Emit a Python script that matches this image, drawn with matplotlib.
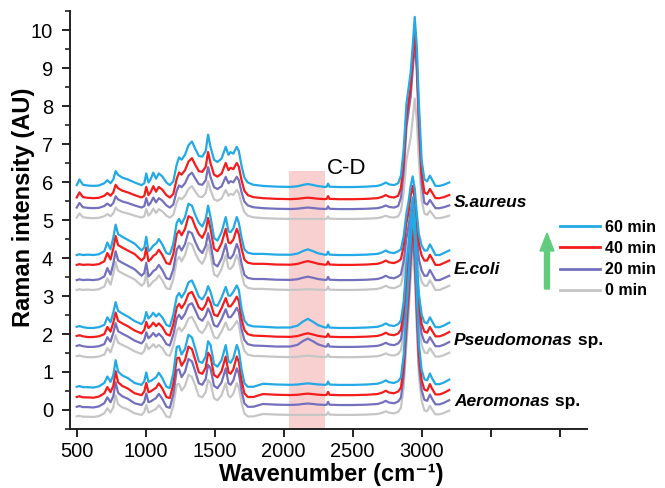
import numpy as np
import matplotlib
matplotlib.use("Agg")
import matplotlib.pyplot as plt
from matplotlib.lines import Line2D
from matplotlib.patches import Rectangle, FancyArrow
from matplotlib.ticker import MultipleLocator, FixedLocator, FuncFormatter

plt.rcParams["font.family"] = ["Liberation Sans", "DejaVu Sans"]

# ---- spectral grids (cm-1) ----
fp_wn = [500, 520, 545, 580, 620, 660, 700, 722, 745, 765, 782, 800, 830, 870,
         920, 970, 990, 1004, 1020, 1035, 1055, 1075, 1095, 1120, 1150, 1175,
         1200, 1225, 1242, 1260, 1285, 1310, 1335, 1360, 1385, 1410, 1435, 1452,
         1470, 1495, 1520, 1550, 1580, 1600, 1615, 1635, 1660, 1675, 1695, 1715,
         1740, 1780]
mid_wn = [1850, 1950, 2050, 2100, 2140, 2175, 2210, 2250, 2300, 2312, 2322,
          2332, 2400, 2500, 2600, 2680, 2715, 2740, 2765, 2800, 2830]
ch_wn = [2850, 2870, 2890, 2905, 2920, 2935, 2950, 2965, 2980, 3000, 3020,
         3040, 3060, 3075, 3100, 3130, 3160, 3200]

# silent region, shared by all samples
mid_profile = [0.03, 0.01, 0.0, 0.0, 0.0, 0.0, 0.0, 0.0, 0.0, 0.01, 0.09,
               0.01, 0.0, 0.0, 0.01, 0.03, 0.07, 0.12, 0.07, 0.05, 0.10]
# C-D stretching band shape
cd_band = [0.0, 0.0, 0.05, 0.25, 0.7, 1.0, 0.7, 0.3, 0.05, 0.0, 0.0,
           0.0, 0.0, 0.0, 0.0, 0.0, 0.0, 0.0, 0.0, 0.0, 0.0]

# ---- fingerprint profiles (above baseline) ----
saureus_fp = [0.05, 0.20, 0.06, 0.04, 0.03, 0.04, 0.10, 0.18, 0.10, 0.20, 0.42,
              0.32, 0.25, 0.20, 0.12, 0.05, 0.10, 0.36, 0.12, 0.20, 0.38, 0.22,
              0.36, 0.28, 0.12, 0.05, 0.15, 0.60, 0.78, 0.72, 0.85, 1.10, 1.20,
              1.00, 0.82, 0.80, 0.95, 1.38, 1.05, 0.72, 0.66, 0.75, 1.06, 0.85,
              0.92, 0.88, 1.06, 0.95, 0.55, 0.25, 0.12, 0.06]
ecoli_fp = [0.00, 0.02, 0.00, 0.01, 0.00, 0.02, 0.10, 0.33, 0.15, 0.45, 0.80,
            0.55, 0.48, 0.40, 0.30, 0.12, 0.20, 0.48, 0.10, 0.15, 0.25, 0.30,
            0.42, 0.28, 0.05, 0.02, 0.30, 0.85, 0.95, 0.82, 1.00, 1.35, 1.30,
            1.05, 0.85, 0.75, 0.95, 1.30, 1.00, 0.45, 0.38, 0.60, 1.00, 0.62,
            0.60, 0.70, 1.00, 0.85, 0.45, 0.15, 0.06, 0.03]
pseudo_fp = [0.03, 0.05, 0.02, 0.00, 0.00, 0.02, 0.08, 0.28, 0.15, 0.40, 0.68,
             0.45, 0.38, 0.30, 0.18, 0.10, 0.20, 0.42, 0.25, 0.30, 0.40, 0.30,
             0.38, 0.28, 0.08, 0.04, 0.35, 0.82, 0.92, 0.80, 0.95, 1.20, 1.25,
             1.05, 0.82, 0.75, 0.90, 1.10, 0.95, 0.62, 0.58, 0.80, 1.08, 0.85,
             0.85, 0.95, 1.12, 1.00, 0.50, 0.20, 0.08, 0.04]
aero_fp = [-0.05, -0.03, -0.06, -0.06, -0.07, -0.04, 0.05, 0.22, 0.08, 0.25,
           0.65, 0.35, 0.25, 0.18, 0.05, 0.00, 0.10, 0.33, 0.08, 0.10, 0.15,
           0.20, 0.32, 0.18, -0.05, -0.08, 0.30, 1.00, 1.02, 0.80, 0.95, 1.32,
           1.25, 0.95, 0.62, 0.58, 0.75, 1.15, 1.05, 0.55, 0.48, 0.65, 1.05,
           0.62, 0.58, 0.70, 1.05, 0.90, 0.40, 0.05, -0.05, -0.05]

# ---- C-H stretching region profiles ----
saureus_ch = [0.30, 1.00, 2.20, 2.60, 3.00, 3.70, 4.48, 3.70, 2.20, 0.70, 0.20,
              0.15, 0.30, 0.20, 0.03, 0.03, 0.06, 0.12]
ecoli_ch = [0.15, 0.50, 1.10, 1.40, 1.80, 2.07, 1.75, 1.10, 0.55, 0.25, 0.12,
            0.12, 0.28, 0.18, 0.00, 0.00, 0.05, 0.12]
pseudo_ch = [0.20, 0.70, 1.70, 2.20, 2.90, 3.45, 2.90, 1.80, 0.90, 0.35, 0.15,
             0.12, 0.28, 0.18, 0.02, 0.02, 0.06, 0.14]
aero_ch = [0.20, 0.80, 2.00, 2.80, 3.80, 4.60, 3.90, 2.40, 1.10, 0.40, 0.15,
           0.12, 0.30, 0.18, 0.02, 0.02, 0.06, 0.14]

# ---- per-spectrum settings, order: 0, 20, 40, 60 min ----
times = ["0 min", "20 min", "40 min", "60 min"]
colors = ["#c6c6c6", "#7570bd", "#f51c1c", "#22a9e6"]

saureus_base = [5.03, 5.29, 5.55, 5.87]
ecoli_base = [3.16, 3.42, 3.82, 4.08]
pseudo_base = [1.39, 1.66, 1.92, 2.16]
aero_base = [-0.13, 0.13, 0.39, 0.66]

saureus_gain = [0.72, 0.80, 0.90, 1.00]
ecoli_gain = [0.92, 0.95, 0.95, 1.00]
pseudo_gain = [0.85, 0.92, 0.95, 1.00]
aero_gain = [0.80, 0.92, 0.97, 1.00]

saureus_ch_top = [8.2, 9.7, 9.95, 10.35]
ecoli_ch_top = [5.0, 5.5, 5.9, 6.15]
pseudo_ch_top = [4.6, 5.0, 5.3, 5.6]
aero_ch_top = [4.2, 4.6, 4.9, 5.2]

saureus_cd = [0.0, 0.04, 0.04, 0.08]
ecoli_cd = [0.02, 0.09, 0.10, 0.15]
pseudo_cd = [0.04, 0.22, 0.10, 0.24]
aero_cd = [0.0, 0.04, 0.04, 0.04]

groups = [
    (saureus_fp, saureus_ch, saureus_base, saureus_gain, saureus_ch_top, saureus_cd),
    (ecoli_fp, ecoli_ch, ecoli_base, ecoli_gain, ecoli_ch_top, ecoli_cd),
    (pseudo_fp, pseudo_ch, pseudo_base, pseudo_gain, pseudo_ch_top, pseudo_cd),
    (aero_fp, aero_ch, aero_base, aero_gain, aero_ch_top, aero_cd),
]

wn = np.concatenate([fp_wn, mid_wn, ch_wn]).astype(float)
ch_arr_wn = np.array(ch_wn, dtype=float)
peak_zone = (ch_arr_wn >= 2850) & (ch_arr_wn <= 3000)

fig = plt.figure(figsize=(6.65, 4.88), dpi=100)
ax = fig.add_axes([0.105, 0.121, 0.778, 0.856])

# highlighted C-D window
ax.add_patch(Rectangle((2040, -0.5), 260, 6.78, facecolor="#f08a8a",
                       alpha=0.4, edgecolor="none", zorder=0))

for fp, ch, base, gain, top, cd in groups:
    fp = np.array(fp)
    ch = np.array(ch)
    mid = np.array(mid_profile)
    band = np.array(cd_band)
    for i in range(4):
        ch_scale = (top[i] - base[i]) / ch.max()
        ch_part = np.where(peak_zone, ch * ch_scale, ch * gain[i])
        y = base[i] + np.concatenate([fp * gain[i], mid * gain[i] + cd[i] * band,
                                      ch_part])
        ax.plot(wn, y, color=colors[i], lw=1.6, solid_joinstyle="round", zorder=2)

ax.set_xlim(450, 4200)
ax.set_ylim(-0.5, 10.5)
ax.xaxis.set_major_locator(FixedLocator([500, 1000, 1500, 2000, 2500, 3000, 3500, 4000]))
ax.xaxis.set_major_formatter(FuncFormatter(lambda v, p: f"{int(v)}" if v <= 3000 else ""))
ax.yaxis.set_major_locator(MultipleLocator(1))
ax.yaxis.set_minor_locator(MultipleLocator(0.5))
ax.spines["top"].set_visible(False)
ax.spines["right"].set_visible(False)
for s in ("left", "bottom"):
    ax.spines[s].set_linewidth(1.4)
    ax.spines[s].set_color("#222222")
ax.tick_params(axis="both", which="major", direction="out", length=6, width=1.4,
               labelsize=14.5, colors="#222222", labelcolor="black")
ax.tick_params(axis="y", which="major", pad=6)
ax.tick_params(axis="y", which="minor", direction="out", length=3.5, width=1.2,
               colors="#222222")

ax.set_ylabel("Raman intensity (AU)", fontsize=17, fontweight="bold")
ax.yaxis.set_label_coords(-0.068, 0.53)
ax.set_xlabel("Wavenumber (cm\u207b\u00b9)", fontsize=17, fontweight="bold",
              va="center")
ax.xaxis.set_label_coords(0.505, -0.11)

ax.text(2457, 6.37, "C-D", fontsize=16, ha="center", va="center")

# sample names
names = [("S.aureus", "", 5.45), ("E.coli", "", 3.71),
         ("Pseudomonas", " sp.", 1.84), ("Aeromonas", " sp.", 0.21)]
for name, suffix, yv in names:
    t = ax.text(3235, yv, name, fontsize=12.5, fontweight="bold", style="italic",
                ha="left", va="center")
    if suffix:
        ax.annotate(suffix, xy=(1, 0), xycoords=t, fontsize=12.5,
                    fontweight="bold", ha="left", va="bottom")

# legend for incubation time
handles = [Line2D([], [], color=colors[i], lw=2) for i in (3, 2, 1, 0)]
labels = [times[i] for i in (3, 2, 1, 0)]
ax.legend(handles, labels, loc="upper left", bbox_to_anchor=(560 / 665, 1 - 220 / 488),
          bbox_transform=fig.transFigure, frameon=False, borderpad=0,
          borderaxespad=0, handlelength=2.5, handletextpad=0.3,
          labelspacing=0.38, prop={"weight": "bold", "size": 11.5})

# arrow indicating increasing time
fig.patches.append(FancyArrow(547 / 665, 1 - 289 / 488, 0, (289 - 233) / 488,
                              width=5 / 665, head_width=14 / 665,
                              head_length=18 / 488, length_includes_head=True,
                              color="#62cc7e", transform=fig.transFigure,
                              figure=fig))

fig.savefig("out.png", dpi=100)
